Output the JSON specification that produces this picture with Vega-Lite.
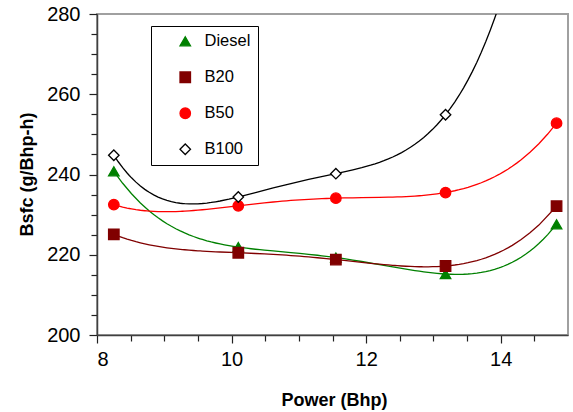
{
  "$schema": "https://vega.github.io/schema/vega-lite/v6.json",
  "autosize": "none",
  "width": 471,
  "height": 321,
  "padding": {"left": 97, "top": 14, "right": 5, "bottom": 77},
  "background": "white",
  "config": {
    "view": {"stroke": "#a0a0a0", "strokeWidth": 2},
    "font": "Liberation Sans",
    "axis": {
      "grid": false,
      "domainColor": "#404040",
      "domainWidth": 1.5,
      "tickColor": "#202020",
      "tickWidth": 1.2,
      "labelFont": "Liberation Sans",
      "labelFontSize": 20,
      "labelColor": "#000000",
      "titleFont": "Liberation Sans",
      "titleFontSize": 18,
      "titleFontWeight": "bold",
      "titleColor": "#000000"
    },
    "legend": {
      "orient": "none",
      "legendX": 54,
      "legendY": 12,
      "padding": 7,
      "strokeColor": "#000000",
      "fillColor": "#ffffff",
      "labelFont": "Liberation Sans",
      "labelFontSize": 16.5,
      "labelColor": "#000000",
      "rowPadding": 19,
      "symbolOffset": 19,
      "labelOffset": 11,
      "symbolSize": 110,
      "symbolStrokeWidth": 1.3
    }
  },
  "data": {
    "values": [
      {"fuel": "Diesel", "power": 8.25, "bsfc": 240.8},
      {"fuel": "Diesel", "power": 10.1, "bsfc": 221.9},
      {"fuel": "Diesel", "power": 11.55, "bsfc": 219.3},
      {"fuel": "Diesel", "power": 13.18, "bsfc": 215.2},
      {"fuel": "Diesel", "power": 14.83, "bsfc": 227.6},
      {"fuel": "B20", "power": 8.25, "bsfc": 225.1},
      {"fuel": "B20", "power": 10.1, "bsfc": 220.5},
      {"fuel": "B20", "power": 11.55, "bsfc": 218.8},
      {"fuel": "B20", "power": 13.18, "bsfc": 217.2},
      {"fuel": "B20", "power": 14.83, "bsfc": 232.1},
      {"fuel": "B50", "power": 8.25, "bsfc": 232.5},
      {"fuel": "B50", "power": 10.1, "bsfc": 232.2},
      {"fuel": "B50", "power": 11.55, "bsfc": 234.1},
      {"fuel": "B50", "power": 13.18, "bsfc": 235.5},
      {"fuel": "B50", "power": 14.83, "bsfc": 252.8},
      {"fuel": "B100", "power": 8.25, "bsfc": 244.8},
      {"fuel": "B100", "power": 10.1, "bsfc": 234.4},
      {"fuel": "B100", "power": 11.55, "bsfc": 240.2},
      {"fuel": "B100", "power": 13.18, "bsfc": 254.9},
      {"fuel": "B100", "power": 14.83, "bsfc": 346}
    ]
  },
  "resolve": {"axis": {"x": "independent", "y": "independent"}},
  "layer": [
    {
      "transform": [
        {"regression": "bsfc", "on": "power", "groupby": ["fuel"], "method": "poly", "order": 4, "extent": [8.25, 14.83]}
      ],
      "mark": {"type": "line", "clip": true, "strokeWidth": 1.3},
      "encoding": {
        "x": {"field": "power", "type": "quantitative", "scale": {"domain": [8, 15], "nice": false, "zero": false},
              "axis": {"orient": "bottom", "values": [8.5, 9, 9.5, 10.5, 11, 11.5, 12.5, 13, 13.5, 14.5], "labels": false, "tickSize": 6, "domain": false, "title": null}},
        "y": {"field": "bsfc", "type": "quantitative", "scale": {"domain": [200, 280], "nice": false, "zero": false},
              "axis": {"orient": "left", "values": [205, 210, 215, 225, 230, 235, 245, 250, 255, 265, 270, 275], "labels": false, "tickSize": 6, "domain": false, "title": null}},
        "stroke": {"field": "fuel", "type": "nominal",
                   "scale": {"domain": ["Diesel", "B20", "B50", "B100"], "range": ["#008000", "#800000", "#ff0000", "#000000"]},
                   "legend": {"title": null}}
      }
    },
    {
      "mark": {"type": "point", "filled": false, "clip": true, "opacity": 1, "strokeWidth": 1.3},
      "encoding": {
        "x": {"field": "power", "type": "quantitative", "scale": {"domain": [8, 15], "nice": false, "zero": false},
              "axis": {"orient": "bottom", "values": [8, 10, 12, 14], "tickSize": 8, "labelPadding": 6, "title": "Power (Bhp)", "titleX": 237, "titleY": 65, "titleBaseline": "middle", "titleAlign": "center"}},
        "y": {"field": "bsfc", "type": "quantitative", "scale": {"domain": [200, 280], "nice": false, "zero": false},
              "axis": {"orient": "left", "values": [200, 220, 240, 260, 280], "tickSize": 8, "labelPadding": 9, "title": "Bsfc (g/Bhp-h)", "titleX": -70, "titleY": 160, "titleBaseline": "middle", "titleAlign": "center", "titleAngle": -90}},
        "shape": {"field": "fuel", "type": "nominal",
                  "scale": {"domain": ["Diesel", "B20", "B50", "B100"], "range": ["triangle-up", "square", "circle", "diamond"]},
                  "legend": {"title": null}},
        "fill": {"field": "fuel", "type": "nominal",
                 "scale": {"domain": ["Diesel", "B20", "B50", "B100"], "range": ["#008000", "#800000", "#ff0000", "#ffffff"]},
                 "legend": {"title": null}},
        "stroke": {"field": "fuel", "type": "nominal",
                   "scale": {"domain": ["Diesel", "B20", "B50", "B100"], "range": ["#008000", "#800000", "#ff0000", "#000000"]},
                   "legend": {"title": null}},
        "size": {"value": 110}
      }
    }
  ]
}
